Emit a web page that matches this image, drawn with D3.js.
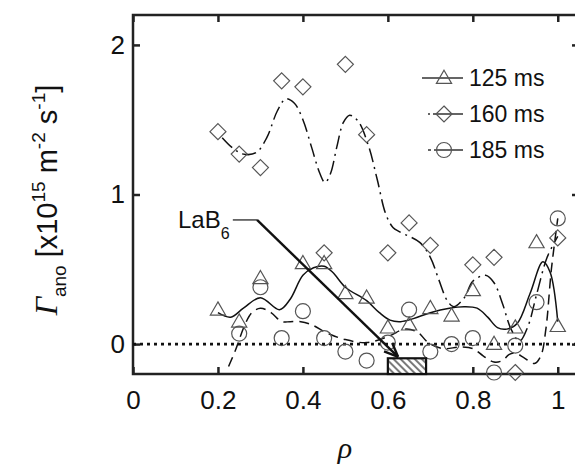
<!DOCTYPE html>
<html>
<head>
<meta charset="utf-8">
<script src="https://cdn.jsdelivr.net/npm/d3@7"></script>
<style>
  body { margin: 0; background: #fff; }
  text { font-family: "Liberation Sans", Arial, sans-serif; fill: #111; }
</style>
</head>
<body>
<div id="chart"></div>
<script>
// measured points
const rho125 = [0.2, 0.25, 0.3, 0.4, 0.45, 0.5, 0.55, 0.6, 0.65, 0.7, 0.75, 0.8, 0.85, 0.9, 0.95, 1.0];
const val125 = [0.23, 0.15, 0.44, 0.54, 0.54, 0.34, 0.31, 0.11, 0.13, 0.24, 0.19, 0.36, 0.0, 0.11, 0.68, 0.12];

const rho160 = [0.2, 0.25, 0.3, 0.35, 0.4, 0.45, 0.5, 0.55, 0.6, 0.65, 0.7, 0.8, 0.85, 0.9, 1.0];
const val160 = [1.42, 1.27, 1.18, 1.76, 1.72, 0.61, 1.87, 1.40, 0.61, 0.81, 0.66, 0.53, 0.58, -0.19, 0.71];

const rho185 = [0.25, 0.3, 0.35, 0.4, 0.45, 0.5, 0.55, 0.6, 0.65, 0.7, 0.75, 0.8, 0.85, 0.9, 0.95, 1.0];
const val185 = [0.07, 0.38, 0.04, 0.22, 0.04, -0.05, -0.11, 0.01, 0.23, -0.05, 0.0, 0.04, -0.19, -0.01, 0.28, 0.84];

// smoothed fits
const fitRho125 = [0.2, 0.23, 0.26, 0.3, 0.345, 0.37, 0.4, 0.425, 0.45, 0.47, 0.5, 0.55, 0.58, 0.605, 0.63, 0.66, 0.7, 0.745, 0.78, 0.81, 0.835, 0.858, 0.88, 0.905, 0.935, 0.965, 0.982, 1.0];
const fitVal125 = [0.21, 0.18, 0.24, 0.31, 0.23, 0.30, 0.46, 0.51, 0.52, 0.48, 0.38, 0.29, 0.21, 0.16, 0.15, 0.17, 0.21, 0.24, 0.25, 0.24, 0.18, 0.11, 0.10, 0.14, 0.34, 0.55, 0.48, 0.15];

const fitRho160 = [0.21, 0.235, 0.26, 0.29, 0.315, 0.34, 0.36, 0.38, 0.40, 0.42, 0.44, 0.452, 0.465, 0.48, 0.495, 0.51, 0.53, 0.555, 0.575, 0.595, 0.612, 0.628, 0.675, 0.70, 0.72, 0.74, 0.755, 0.78, 0.80, 0.83, 0.85, 0.87, 0.89, 0.91, 0.93, 0.95, 0.975, 1.0];
const fitVal160 = [1.38, 1.31, 1.27, 1.28, 1.38, 1.56, 1.64, 1.61, 1.50, 1.32, 1.14, 1.08, 1.14, 1.32, 1.48, 1.53, 1.49, 1.32, 1.10, 0.87, 0.78, 0.75, 0.68, 0.58, 0.43, 0.29, 0.25, 0.31, 0.42, 0.46, 0.41, 0.27, 0.10, 0.02, 0.12, 0.33, 0.58, 0.72];

const fitRho185 = [0.225, 0.24, 0.265, 0.28, 0.30, 0.325, 0.35, 0.37, 0.395, 0.42, 0.46, 0.5, 0.55, 0.6, 0.64, 0.67, 0.695, 0.73, 0.77, 0.80, 0.825, 0.85, 0.87, 0.885, 0.90, 0.92, 0.945, 0.96, 0.972, 0.985, 1.0];
const fitVal185 = [-0.15, -0.05, 0.14, 0.21, 0.24, 0.21, 0.15, 0.15, 0.15, 0.13, 0.07, 0.03, 0.01, 0.05, 0.10, 0.08, 0.01, -0.03, -0.02, -0.03, -0.08, -0.12, -0.11, -0.07, -0.06, -0.09, -0.13, -0.08, 0.10, 0.50, 0.84];

const xTicks = [0, 0.2, 0.4, 0.6, 0.8, 1];
const yTicks = [0, 1, 2];
const legendLabels = ["125 ms", "160 ms", "185 ms"];

// LaB6 window and arrow, in data units
const labRho = [0.6, 0.69];
const labVal = [-0.2, -0.095];
const arrowRho = [0.235, 0.292, 0.624];
const arrowVal = [0.83, 0.83, -0.085];

const W = 575, H = 468;
const margin = { top: 15, left: 133 };
const width = 446, height = 359;

const svg = d3.select("#chart").append("svg")
    .attr("width", W)
    .attr("height", H);

const defs = svg.append("defs");
const pat = defs.append("pattern")
    .attr("id", "hatch")
    .attr("patternUnits", "userSpaceOnUse")
    .attr("width", 5).attr("height", 5)
    .attr("patternTransform", "rotate(-45)");
pat.append("rect").attr("width", 5).attr("height", 5).attr("fill", "#fff");
pat.append("line")
    .attr("x1", 1).attr("y1", 0).attr("x2", 1).attr("y2", 5)
    .attr("stroke", "#222").attr("stroke-width", 1.2);

const g = svg.append("g")
    .attr("transform", `translate(${margin.left},${margin.top})`);

const x = d3.scaleLinear().domain([0, 1.05]).range([0, width]);
const y = d3.scaleLinear().domain([-0.2, 2.2]).range([height, 0]);

// axes, ticks inside
g.append("g")
    .attr("transform", `translate(0,${height})`)
    .call(d3.axisBottom(x).tickValues(xTicks).tickFormat(d3.format("~g")).tickSizeInner(-7).tickSizeOuter(0).tickPadding(17))
    .call(a => a.select(".domain").remove())
    .call(a => a.selectAll("text").style("font-size", "26px"));

g.append("g")
    .call(d3.axisTop(x).tickValues(xTicks).tickFormat("").tickSizeInner(-7).tickSizeOuter(0))
    .call(a => a.select(".domain").remove());

g.append("g")
    .call(d3.axisLeft(y).tickValues(yTicks).tickFormat(d3.format("~g")).tickSizeInner(-7).tickSizeOuter(0).tickPadding(8))
    .call(a => a.select(".domain").remove())
    .call(a => a.selectAll("text").style("font-size", "26px"));

g.append("g")
    .attr("transform", `translate(${x(1.05)},0)`)
    .call(d3.axisRight(y).tickValues(yTicks).tickFormat("").tickSizeInner(-7).tickSizeOuter(0))
    .call(a => a.select(".domain").remove());

g.selectAll(".tick line").attr("stroke", "#222").attr("stroke-width", 2.5);

g.append("rect")
    .attr("width", width).attr("height", height)
    .attr("fill", "none").attr("stroke", "#222").attr("stroke-width", 2.5);

// zero line
g.append("line")
    .attr("x1", 0).attr("x2", width)
    .attr("y1", y(0)).attr("y2", y(0))
    .attr("stroke", "#111").attr("stroke-width", 2.6)
    .attr("stroke-dasharray", "3,4");

// fitted curves
const line = d3.line()
    .x(d => x(d[0]))
    .y(d => y(d[1]))
    .curve(d3.curveCatmullRom.alpha(0.5));

const fits = [
    { r: fitRho125, v: fitVal125, dash: null },
    { r: fitRho160, v: fitVal160, dash: "14,5,2,5" },
    { r: fitRho185, v: fitVal185, dash: "10,6" }
];

fits.forEach(f => {
    g.append("path")
        .datum(d3.zip(f.r, f.v))
        .attr("d", line)
        .attr("fill", "none")
        .attr("stroke", "#111")
        .attr("stroke-width", 1.5)
        .attr("stroke-dasharray", f.dash);
});

// markers
const tri = d3.symbol().type(d3.symbolTriangle).size(100);
const dia = "M0,-8L8,0L0,8L-8,0Z";
const markerColor = "#555";

function drawMarker(sel, kind) {
    if (kind === 0) {
        sel.append("path").attr("d", tri).attr("transform", "translate(0,1)");
    } else if (kind === 1) {
        sel.append("path").attr("d", dia);
    } else {
        sel.append("circle").attr("r", 7.5);
    }
    sel.selectAll("path,circle")
        .attr("fill", "none")
        .attr("stroke", markerColor)
        .attr("stroke-width", 1.2);
}

[[rho125, val125], [rho160, val160], [rho185, val185]].forEach((s, i) => {
    d3.zip(s[0], s[1]).forEach(d => {
        const m = g.append("g").attr("transform", `translate(${x(d[0])},${y(d[1])})`);
        drawMarker(m, i);
    });
});

// LaB6 window
g.append("rect")
    .attr("x", x(labRho[0]))
    .attr("y", y(labVal[1]))
    .attr("width", x(labRho[1]) - x(labRho[0]))
    .attr("height", y(labVal[0]) - y(labVal[1]))
    .attr("fill", "url(#hatch)")
    .attr("stroke", "#111").attr("stroke-width", 2.2);

// annotation arrow
g.append("line")
    .attr("x1", x(arrowRho[0])).attr("y1", y(arrowVal[0]))
    .attr("x2", x(arrowRho[1])).attr("y2", y(arrowVal[1]))
    .attr("stroke", "#444").attr("stroke-width", 1.5);

const ax0 = x(arrowRho[1]), ay0 = y(arrowVal[1]);
const ax1 = x(arrowRho[2]), ay1 = y(arrowVal[2]);
g.append("line")
    .attr("x1", ax0).attr("y1", ay0).attr("x2", ax1).attr("y2", ay1)
    .attr("stroke", "#111").attr("stroke-width", 2.4);

const ang = Math.atan2(ay1 - ay0, ax1 - ax0);
[-0.4, 0.4].forEach(o => {
    g.append("line")
        .attr("x1", ax1).attr("y1", ay1)
        .attr("x2", ax1 - 15 * Math.cos(ang + o))
        .attr("y2", ay1 - 15 * Math.sin(ang + o))
        .attr("stroke", "#111").attr("stroke-width", 2.4);
});

const lab = svg.append("text")
    .attr("x", 178).attr("y", 228)
    .style("font-size", "24px");
lab.append("tspan").text("LaB");
lab.append("tspan").attr("dy", 11).style("font-size", "16px").text("6");

// legend
const legY = [78, 114, 150];
legendLabels.forEach((t, i) => {
    svg.append("line")
        .attr("x1", i === 0 ? 422 : 428).attr("x2", 463)
        .attr("y1", legY[i]).attr("y2", legY[i])
        .attr("stroke", "#333").attr("stroke-width", 1.3)
        .attr("stroke-dasharray", i === 0 ? null : (i === 1 ? "2,3,30" : "3,3,30"));
    const m = svg.append("g").attr("transform", `translate(444,${legY[i]})`);
    drawMarker(m, i);
    svg.append("text")
        .attr("x", 469).attr("y", legY[i] + 8)
        .style("font-size", "23px")
        .text(t);
});

// axis titles
svg.append("text")
    .attr("x", 345).attr("y", 458)
    .attr("text-anchor", "middle")
    .style("font-family", "'Liberation Serif', serif")
    .style("font-style", "italic")
    .style("font-size", "30px")
    .text("ρ");

const yl = svg.append("text")
    .attr("transform", "translate(57,200) rotate(-90)")
    .attr("text-anchor", "middle")
    .style("font-size", "29px");
yl.append("tspan")
    .style("font-family", "'Liberation Serif', serif")
    .style("font-style", "italic")
    .style("font-size", "32px")
    .text("Γ");
yl.append("tspan").attr("dy", 9).style("font-size", "19px").text("ano");
yl.append("tspan").attr("dy", -9).text(" [x10");
yl.append("tspan").attr("dy", -12).style("font-size", "19px").text("15");
yl.append("tspan").attr("dy", 12).text(" m");
yl.append("tspan").attr("dy", -12).style("font-size", "19px").text("-2");
yl.append("tspan").attr("dy", 12).text(" s");
yl.append("tspan").attr("dy", -12).style("font-size", "19px").text("-1");
yl.append("tspan").attr("dy", 12).text("]");
</script>
</body>
</html>
